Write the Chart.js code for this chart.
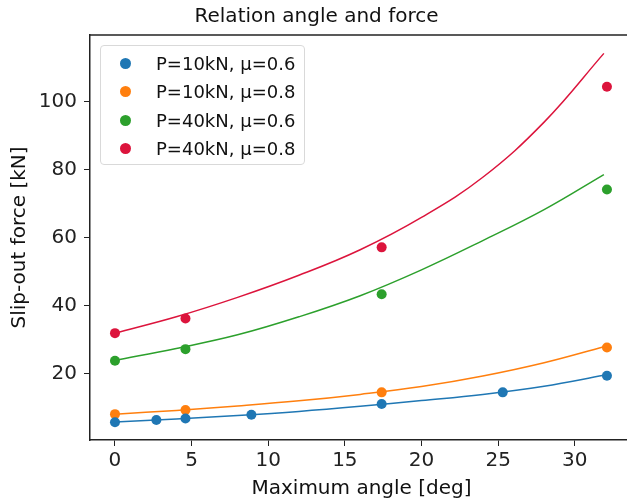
<!DOCTYPE html>
<html>
<head>
<meta charset="utf-8">
<script src="https://cdn.jsdelivr.net/npm/chart.js@4.4.0/dist/chart.umd.min.js"></script>
<style>
  html, body { margin: 0; padding: 0; background: #fff; overflow: hidden; }
  .wrap { position: relative; width: 627px; height: 501px; overflow: hidden; }
  canvas { display: block; }
  .legend {
    position: absolute; left: 100px; top: 45px; width: 205px; height: 120px;
    box-sizing: border-box; padding-top: 3px;
    border: 1px solid #d9d9d9; border-radius: 4px; background: rgba(255,255,255,0.85);
    font-family: 'DejaVu Sans'; font-size: 18px; color: #111;
  }
  .legend .row { height: 28.5px; display: flex; align-items: center; }
  .legend .dot { width: 11px; height: 11px; border-radius: 50%; margin-left: 19px; margin-right: 25px; }
</style>
</head>
<body>
<div class="wrap">
  <!-- the original figure is cut off on the right, so the canvas is wider than the window -->
  <canvas id="chart" width="667" height="501"></canvas>
  <div class="legend" id="legend"></div>
</div>
<script>
// measured points
const labels = ['P=10kN, μ=0.6', 'P=10kN, μ=0.8', 'P=40kN, μ=0.6', 'P=40kN, μ=0.8'];
const colors = ['#1f77b4', '#ff7f0e', '#2ca02c', '#dc143c'];

const angleBlue = [0, 2.7, 4.6, 8.9, 17.4, 25.3, 32.1];
const forceBlue = [5.8, 6.5, 6.9, 8.0, 11.2, 14.6, 19.5];
const angleOther = [0, 4.6, 17.4, 32.1];
const forceOrange = [8.2, 9.4, 14.6, 27.8];
const forceGreen = [23.9, 27.3, 43.4, 74.2];
const forceRed = [32.0, 36.3, 57.2, 104.4];

// fitted curves
const curveAngle = [0, 4, 8, 12, 16, 20, 24, 28, 31.9];
const curveBlue = [5.9, 6.8, 7.8, 9.0, 10.5, 12.2, 14.0, 16.4, 19.6];
const curveOrange = [8.2, 9.3, 10.6, 12.1, 14.0, 16.3, 19.4, 23.3, 28.0];
const curveGreen = [24.0, 27.5, 31.5, 36.8, 43.0, 50.6, 59.2, 68.3, 78.6];
const curveRed = [32.0, 36.8, 42.5, 49.0, 56.5, 66.0, 77.8, 94.0, 114.2];

const xTicks = [0, 5, 10, 15, 20, 25, 30];
const yTicks = [20, 40, 60, 80, 100];

const pts = (xs, ys) => xs.map((x, i) => ({ x: x, y: ys[i] }));

const pointSets = [
  pts(angleBlue, forceBlue),
  pts(angleOther, forceOrange),
  pts(angleOther, forceGreen),
  pts(angleOther, forceRed),
];
const curveSets = [curveBlue, curveOrange, curveGreen, curveRed].map(c => pts(curveAngle, c));

const datasets = [];
pointSets.forEach((d, i) => {
  datasets.push({
    label: labels[i], data: d, showLine: false,
    pointRadius: 5, pointBackgroundColor: colors[i], pointBorderWidth: 0,
    order: 1
  });
});
curveSets.forEach((d, i) => {
  datasets.push({
    label: 'fit ' + labels[i], data: d, showLine: true,
    borderColor: colors[i], borderWidth: 1.5, pointRadius: 0,
    tension: 0.4, order: 2
  });
});

const topFrame = {
  id: 'topFrame',
  afterDraw(chart) {
    const { ctx, chartArea } = chart;
    ctx.save();
    ctx.strokeStyle = '#222';
    ctx.lineWidth = 1.5;
    ctx.beginPath();
    ctx.moveTo(chartArea.left, chartArea.top);
    ctx.lineTo(chart.width, chartArea.top);
    ctx.stroke();
    ctx.restore();
  }
};

const font = { family: 'DejaVu Sans', size: 20 };

new Chart(document.getElementById('chart'), {
  type: 'scatter',
  data: { datasets: datasets },
  plugins: [topFrame],
  options: {
    responsive: false,
    animation: false,
    devicePixelRatio: 1,
    layout: { padding: { left: 0, right: 34, top: 0, bottom: 0 } },
    plugins: {
      legend: { display: false },
      tooltip: { enabled: false },
      title: {
        display: true,
        text: 'Relation angle and force',
        color: '#111',
        font: { family: 'DejaVu Sans', size: 20, weight: 'normal' },
        padding: { top: 5, bottom: 6 }
      }
    },
    scales: {
      x: {
        type: 'linear',
        min: -1.63, max: 33.8,
        afterBuildTicks: (axis) => { axis.ticks = xTicks.map(v => ({ value: v })); },
        afterFit: (axis) => { axis.height = 61; },
        ticks: { color: '#222', font: font, padding: 3, maxRotation: 0 },
        grid: { display: true, drawOnChartArea: false, drawTicks: true, tickLength: 6, color: '#222', lineWidth: 1 },
        border: { display: true, color: '#222', width: 1.5 },
        title: { display: true, text: 'Maximum angle [deg]', color: '#111', font: font, padding: { top: 3, bottom: 0 } }
      },
      y: {
        type: 'linear',
        min: 0.6, max: 119.6,
        afterBuildTicks: (axis) => { axis.ticks = yTicks.map(v => ({ value: v })); },
        afterFit: (axis) => { axis.width = 90; },
        ticks: { color: '#222', font: font, padding: 7 },
        grid: { display: true, drawOnChartArea: false, drawTicks: true, tickLength: 6, color: '#222', lineWidth: 1 },
        border: { display: true, color: '#222', width: 1.5 },
        title: { display: true, text: 'Slip-out force [kN]', color: '#111', font: font, padding: { top: 8, bottom: 0 } }
      }
    }
  }
});

// legend built from the point datasets
const legend = document.getElementById('legend');
labels.forEach((t, i) => {
  const row = document.createElement('div');
  row.className = 'row';
  const dot = document.createElement('span');
  dot.className = 'dot';
  dot.style.background = colors[i];
  const txt = document.createElement('span');
  txt.textContent = t;
  row.appendChild(dot);
  row.appendChild(txt);
  legend.appendChild(row);
});
</script>
</body>
</html>
